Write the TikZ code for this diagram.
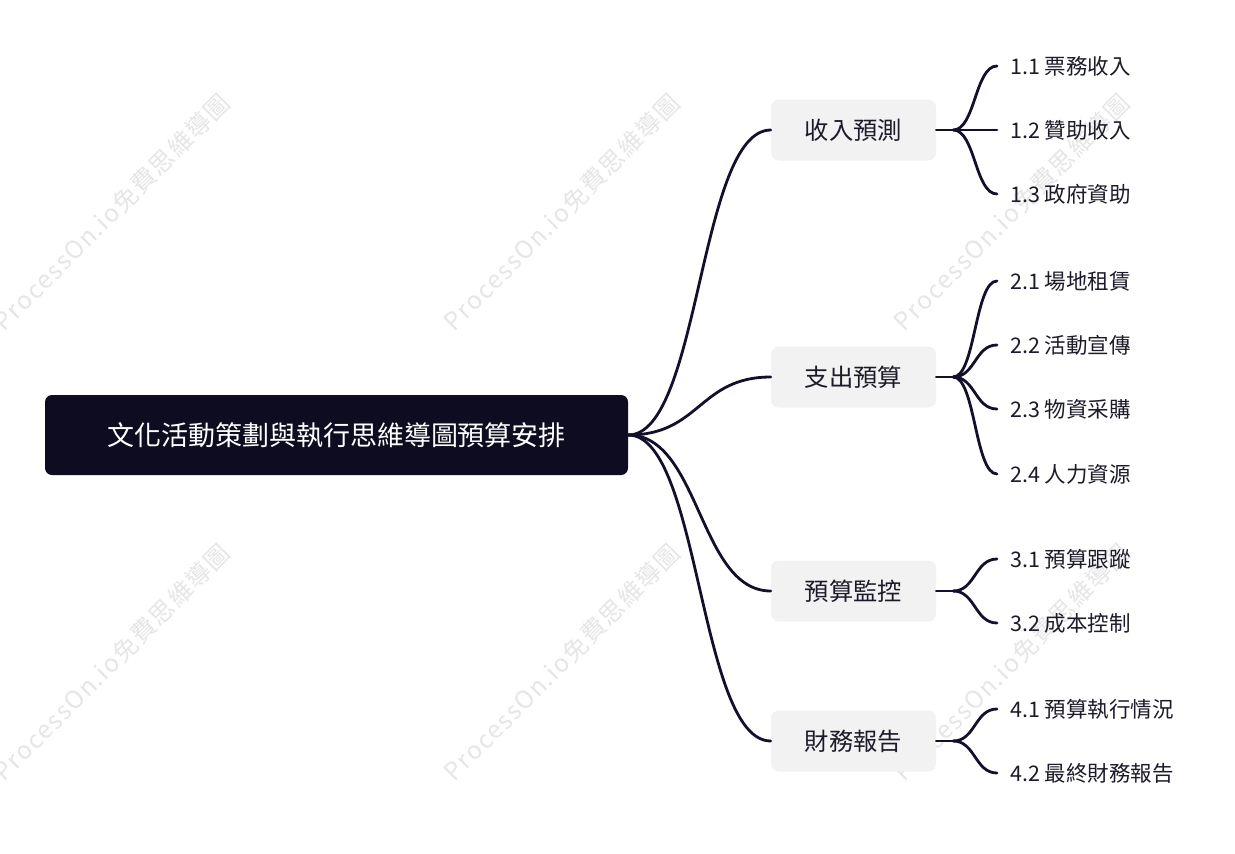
\documentclass[tikz,border=0pt]{standalone}
\usepackage{fontspec}
\setmainfont{Noto Sans CJK TC}
\newfontfamily\wmfont[LetterSpace=6]{Noto Sans CJK TC}
\definecolor{ink}{HTML}{12102A}
\definecolor{rootc}{HTML}{0E0C20}
\definecolor{boxc}{HTML}{F2F2F2}
\definecolor{txt}{HTML}{1C1B29}
\definecolor{wm}{HTML}{E6E6E6}
\tikzset{
  rootbox/.style={fill=rootc, rounded corners=7pt, minimum width=583pt, minimum height=80pt,
    inner sep=0pt, text=white, font=\fontsize{27}{31}\selectfont},
  branchbox/.style={fill=boxc, rounded corners=8pt, minimum width=165pt, minimum height=61pt,
    inner sep=0pt, text=txt, font=\fontsize{24.3}{29}\selectfont},
  leafnode/.style={anchor=west, inner xsep=13pt, inner ysep=0pt, text=txt,
    font=\fontsize{21.5}{25}\selectfont},
  conn/.style={draw=ink, line width=2.8pt, line cap=round},
  watermark/.style={rotate=45, text=wm, inner sep=0pt, font=\wmfont\fontsize{24.5}{28}\selectfont}
}
\begin{document}
\begin{tikzpicture}[x=1pt,y=-1pt]
\useasboundingbox (0,0) rectangle (1235,854);
\clip (0,0) rectangle (1235,854);
\fill[white] (0,0) rectangle (1235,854);

% watermarks
\foreach \wx/\wy [count=\i] in {112/212, 562/212, 1012/212, 112/662, 562/662, 1012/662}
  \node[watermark] (wm\i) at (\wx,\wy) {ProcessOn.io免費思維導圖};

% root and branches
\node[rootbox] (root) at (336.5,435) {文化活動策劃與執行思維導圖預算安排};
\node[branchbox] (b1) at (853.5,130) {收入預測};
\node[branchbox] (b2) at (853.5,377) {支出預算};
\node[branchbox] (b3) at (853.5,591) {預算監控};
\node[branchbox] (b4) at (853.5,741) {財務報告};

% leaves
\node[leafnode] (l11) at (997,66)  {1.1 票務收入};
\node[leafnode] (l12) at (997,130) {1.2 贊助收入};
\node[leafnode] (l13) at (997,194) {1.3 政府資助};
\node[leafnode] (l21) at (997,281) {2.1 場地租賃};
\node[leafnode] (l22) at (997,345) {2.2 活動宣傳};
\node[leafnode] (l23) at (997,409) {2.3 物資采購};
\node[leafnode] (l24) at (997,474) {2.4 人力資源};
\node[leafnode] (l31) at (997,559) {3.1 預算跟蹤};
\node[leafnode] (l32) at (997,623) {3.2 成本控制};
\node[leafnode] (l41) at (997,709) {4.1 預算執行情況};
\node[leafnode] (l42) at (997,773) {4.2 最終財務報告};

% root -> branch connectors
\foreach \b in {b1,b2,b3,b4}
  \draw[conn] (root.east) .. controls +(72,0) and +(-72,0) .. (\b.west);

% junctions
\foreach \b in {b1,b2,b3,b4}{
  \coordinate (j\b) at ([xshift=17pt]\b.east);
  \draw[conn] (\b.east) -- (j\b);
}
\foreach \b/\l in {b1/l11, b1/l12, b1/l13, b2/l21, b2/l22, b2/l23, b2/l24,
                   b3/l31, b3/l32, b4/l41, b4/l42}
  \draw[conn] (j\b) .. controls +(22,0) and +(-22,0) .. (\l.west);
\end{tikzpicture}
\end{document}
